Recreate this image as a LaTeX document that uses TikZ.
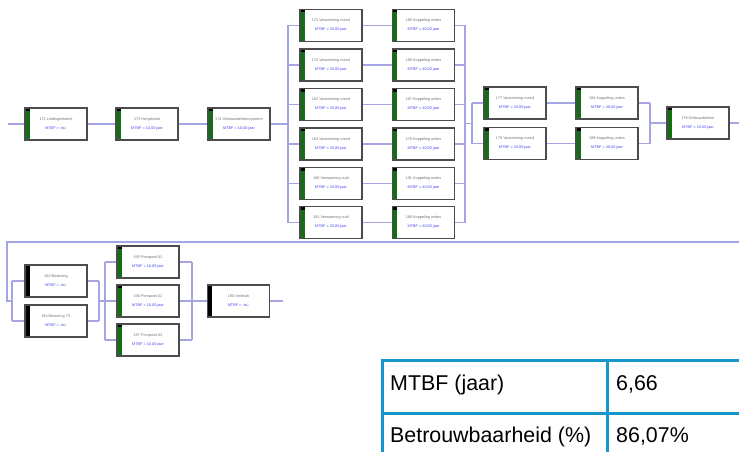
\documentclass[tikz,border=0pt]{standalone}
\usepackage{fontspec}
\setmainfont{Liberation Sans}
\definecolor{wireblue}{RGB}{165,165,228}
\definecolor{mtbfblue}{RGB}{70,70,240}
\definecolor{bargreen}{RGB}{20,110,20}
\definecolor{tblue}{RGB}{22,150,205}
\tikzset{
  wire/.style={draw=wireblue, line width=1.2pt},
  blk/.style={draw=black!70, line width=1.1pt, fill=white,
    minimum width=62pt, minimum height=32pt, inner sep=0pt, align=center,
    font=\fontsize{3.8}{9}\selectfont, text=black!55},
  greenbar/.style={blk, path picture={
    \fill[bargreen] (path picture bounding box.north west) rectangle ([xshift=4.5pt]path picture bounding box.south west);
    \fill[black] (path picture bounding box.north west) rectangle ([xshift=4.5pt,yshift=-3pt]path picture bounding box.north west);}},
  blackbar/.style={blk, path picture={
    \fill[black] (path picture bounding box.north west) rectangle ([xshift=4.5pt]path picture bounding box.south west);}},
  tline/.style={draw=tblue, line width=3pt},
  tcell/.style={anchor=base west, inner sep=0pt, font=\fontsize{21.4}{24}\selectfont}
}
\newcommand\mt[1]{\\\textcolor{mtbfblue}{MTBF = #1}}
\begin{document}
\begin{tikzpicture}[x=1pt, y=-1pt]
\useasboundingbox (0,0) rectangle (739,452);

% ---- top string: serial blocks ----
\node[greenbar] (b1) at (56,124) {171 Leidingnetwerk\mt{$\infty$}};
\node[greenbar] (b2) at (147,124) {173 Hergebruik\mt{10,00 jaar}};
\node[greenbar] (b3) at (239,124) {174 Gebouwbeheersysteem\mt{10,00 jaar}};
\coordinate (in) at (8,124);
\coordinate (ja) at (288,124);
\draw[wire] (in) -- (b1.west);
\draw[wire] (b1.east) -- (b2.west);
\draw[wire] (b2.east) -- (b3.west);
\draw[wire] (b3.east) -- (ja);

% ---- six parallel heating/coupling branches ----
\foreach \i/\y/\la/\lb in {
  1/25.5/175 Verwarming noord/185 Koppeling unites,
  2/65/176 Verwarming noord/186 Koppeling unites,
  3/104.5/182 Verwarming noord/187 Koppeling unites,
  4/144/183 Verwarming noord/178 Koppeling unites,
  5/183.5/180 Verwarming zuid/191 Koppeling unites,
  6/222.5/181 Verwarming zuid/188 Koppeling unites} {
  \coordinate (ja\i) at (288,\y);
  \coordinate (jb\i) at (465,\y);
  \node[greenbar] (a\i) at (331,\y) {\la\mt{20,00 jaar}};
  \node[greenbar] (c\i) at (423.5,\y) {\lb\mt{40,00 jaar}};
  \draw[wire] (ja\i) -- (a\i.west);
  \draw[wire] (a\i.east) -- (c\i.west);
  \draw[wire] (c\i.east) -- (jb\i);
}
\draw[wire] (ja1) -- (ja6);
\draw[wire] (jb1) -- (jb6);

% ---- two parallel branches ----
\coordinate (jb) at (465,123.5);
\coordinate (jc) at (472,123.5);
\coordinate (jc1) at (472,103);
\coordinate (jc2) at (472,143.5);
\coordinate (jd1) at (650,103);
\coordinate (jd2) at (650,143.5);
\coordinate (jd) at (650,123);
\node[greenbar] (p1) at (515,103) {177 Verwarming noord\mt{20,00 jaar}};
\node[greenbar] (p2) at (515,143.5) {178 Verwarming noord\mt{20,00 jaar}};
\node[greenbar] (q1) at (607,103) {184 Koppeling unites\mt{40,00 jaar}};
\node[greenbar] (q2) at (607,143.5) {189 Koppeling unites\mt{40,00 jaar}};
\draw[wire] (jb) -- (jc);
\draw[wire] (jc1) -- (jc2);
\draw[wire] (jc1) -- (p1.west);
\draw[wire] (jc2) -- (p2.west);
\draw[wire] (p1.east) -- (q1.west);
\draw[wire] (p2.east) -- (q2.west);
\draw[wire] (q1.east) -- (jd1);
\draw[wire] (q2.east) -- (jd2);
\draw[wire] (jd1) -- (jd2);
\node[greenbar] (fin) at (698,123) {179 Gebouwbeheer\mt{10,00 jaar}};
\coordinate (outr) at (739,123);
\draw[wire] (jd) -- (fin.west);
\draw[wire] (fin.east) -- (outr);

% ---- second string ----
\coordinate (wr) at (739,242);
\coordinate (wl) at (7,242);
\coordinate (wl2) at (7,301);
\coordinate (je) at (12,301);
\coordinate (je1) at (12,281);
\coordinate (je2) at (12,321);
\coordinate (jf1) at (99,281);
\coordinate (jf2) at (99,321);
\coordinate (jf) at (99,301);
\coordinate (jg) at (105,301);
\draw[wire] (wr) -- (wl) -- (wl2) -- (je);
\node[blackbar] (e1) at (56,281) {192 Besturing\mt{$\infty$}};
\node[blackbar] (e2) at (56,321) {194 Besturing TS\mt{$\infty$}};
\draw[wire] (je1) -- (je2);
\draw[wire] (je1) -- (e1.west);
\draw[wire] (je2) -- (e2.west);
\draw[wire] (e1.east) -- (jf1);
\draw[wire] (e2.east) -- (jf2);
\draw[wire] (jf1) -- (jf2);
\draw[wire] (jf) -- (jg);

\foreach \i/\y/\lp in {1/262/195 Pompunit 01, 2/301/196 Pompunit 02, 3/340/197 Pompunit 03} {
  \coordinate (jg\i) at (105,\y);
  \coordinate (jh\i) at (192,\y);
  \node[greenbar] (f\i) at (148,\y) {\lp\mt{10,00 jaar}};
  \draw[wire] (jg\i) -- (f\i.west);
  \draw[wire] (f\i.east) -- (jh\i);
}
\draw[wire] (jg1) -- (jg3);
\draw[wire] (jh1) -- (jh3);
\node[blackbar] (g) at (238.5,301) {190 Verbruik\mt{$\infty$}};
\coordinate (endb) at (283,301);
\draw[wire] (jh2) -- (g.west);
\draw[wire] (g.east) -- (endb);

% ---- results table ----
\draw[tline] (380.5,360) -- (739,360);
\draw[tline] (382,358.5) -- (382,452);
\draw[tline] (607,360) -- (607,452);
\draw[tline] (382,413) -- (739,413);
\node[tcell] (t11) at (390,390) {MTBF (jaar)};
\node[tcell] (t12) at (616,390) {6,66};
\node[tcell] (t21) at (390,442) {Betrouwbaarheid (\%)};
\node[tcell] (t22) at (616,442) {86,07\%};
\end{tikzpicture}
\end{document}
